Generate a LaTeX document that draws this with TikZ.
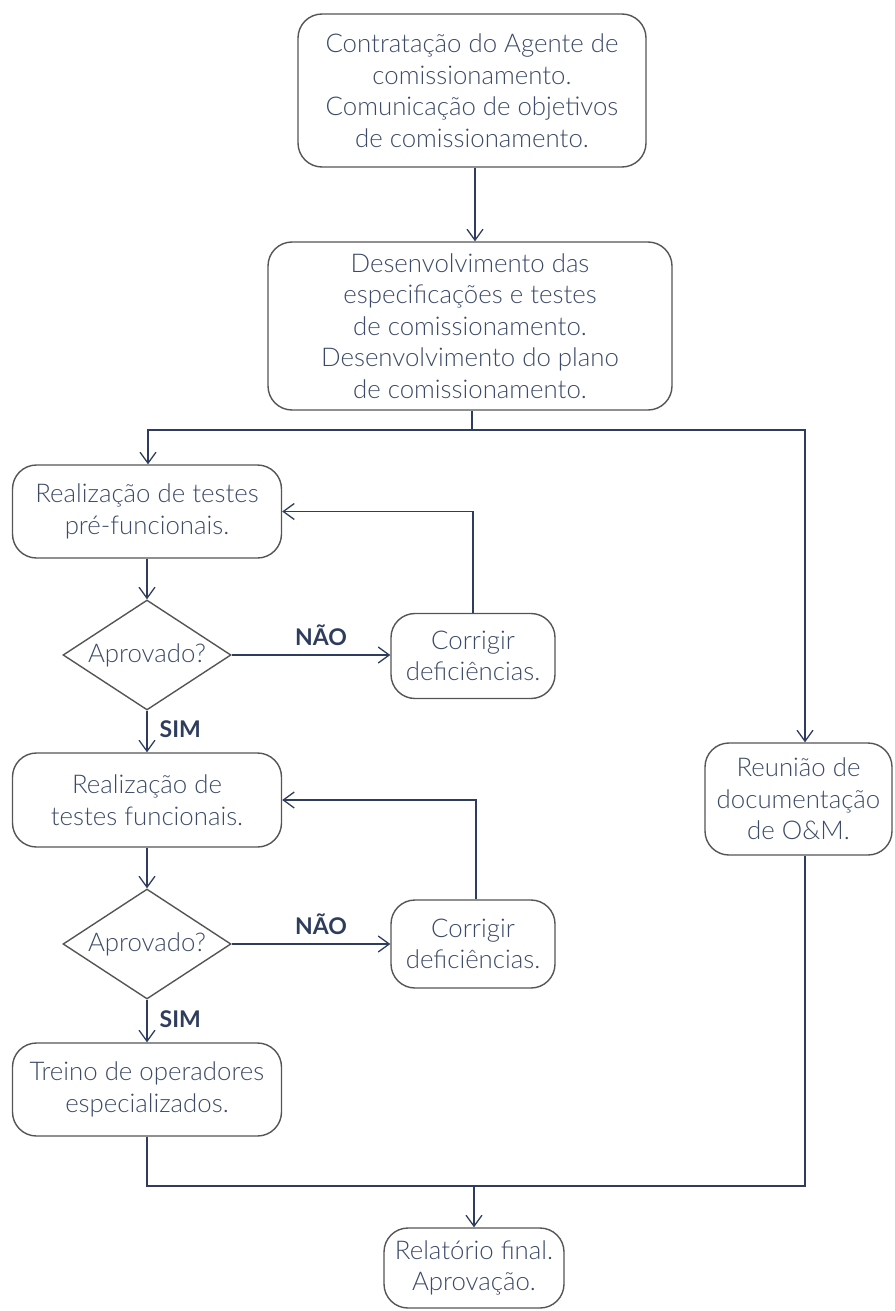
\documentclass[tikz,border=0pt]{standalone}
\usepackage{fontspec}
\setmainfont{Lato}[UprightFont=* Light, BoldFont=* Bold]
\usetikzlibrary{arrows.meta,shapes.geometric}
\definecolor{txt}{HTML}{3C4A68}
\definecolor{ln}{HTML}{2E3D5E}
\definecolor{bd}{HTML}{555555}
\tikzset{
  box/.style={draw=bd, line width=1.4pt, rounded corners=24pt, align=center,
    text=txt, font=\fontsize{25.8}{31.5}\selectfont, inner sep=0pt},
  dia/.style={draw=bd, line width=1.4pt, diamond, aspect=1.53, inner sep=0pt,
    text=txt, font=\fontsize{25.8}{31.5}\selectfont, minimum width=168pt, minimum height=110pt},
  conn/.style={draw=ln, line width=1.3pt},
  arr/.style={conn, -{Straight Barb[length=11pt,width=16pt,line width=1.3pt]}},
  lab/.style={text=ln, font=\bfseries\fontsize{23}{26}\selectfont, inner sep=0pt}
}
\begin{document}
\begin{tikzpicture}[x=1pt,y=-1pt]
\useasboundingbox (0,0) rectangle (894,1311);
\node[box, minimum width=348pt, minimum height=153pt] (b1) at (472,90.5)
  {Contratação do Agente de\\comissionamento.\\Comunicação de objetivos\\de comissionamento.};
\node[box, minimum width=404pt, minimum height=168pt] (b2) at (470,326)
  {Desenvolvimento das\\especificações e testes\\de comissionamento.\\Desenvolvimento do plano\\de comissionamento.};
\node[box, minimum width=269pt, minimum height=93pt] (b3) at (147,511.5)
  {Realização de testes\\pré-funcionais.};
\node[dia] (d1) at (147,655) {Aprovado?};
\node[box, minimum width=164pt, minimum height=85pt] (c1) at (473,656)
  {Corrigir\\deficiências.};
\node[box, minimum width=269pt, minimum height=94pt] (b4) at (147,800)
  {Realização de\\testes funcionais.};
\node[dia] (d2) at (147,944) {Aprovado?};
\node[box, minimum width=164pt, minimum height=88pt] (c2) at (473,944)
  {Corrigir\\deficiências.};
\node[box, minimum width=269pt, minimum height=93pt] (b5) at (147,1089.5)
  {Treino de operadores\\especializados.};
\node[box, minimum width=187pt, minimum height=112pt] (r) at (798.5,799)
  {Reunião de\\documentação\\de O\&M.};
\node[box, minimum width=180pt, minimum height=80pt] (f) at (474,1268)
  {Relatório final.\\Aprovação.};

\coordinate (split) at (472,430);
\coordinate (join) at (474,1186);

\draw[arr] (b1.south -| 475,0) -- (b2.north -| 475,0);
\draw[conn] (b2.south -| split) -- (split);
\draw[arr] (split) -- (148,430) -- (b3.north -| 148,0);
\draw[arr] (split) -- (805,430) -- (r.north -| 805,0);
\draw[arr] (b3) -- (d1);
\draw[arr] (d1.east) -- node[lab, above=9pt, xshift=10pt] {NÃO} (d1.east -| c1.west);
\draw[arr] (c1.north) -- (c1.north |- b3.east) -- (b3.east);
\draw[arr] (d1) -- node[lab, right=12pt, pos=0.45] {SIM} (b4);
\draw[arr] (b4) -- (d2);
\draw[arr] (d2.east) -- node[lab, above=9pt, xshift=10pt] {NÃO} (d2.east -| c2.west);
\draw[arr] (c2.north -| 476,0) -- (476,800) -- (b4.east);
\draw[arr] (d2) -- node[lab, right=12pt, pos=0.45] {SIM} (b5);
\draw[conn] (b5.south) -- (147,1186) -- (805,1186) -- (r.south -| 805,0);
\draw[arr] (join) -- (f.north -| join);
\end{tikzpicture}
\end{document}
